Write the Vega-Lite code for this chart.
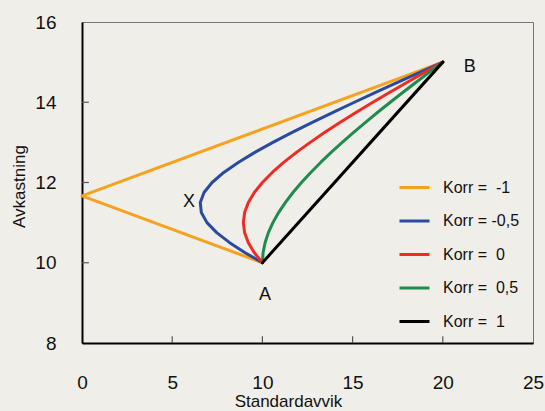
{
  "$schema": "https://vega.github.io/schema/vega-lite/v6.json",
  "width": 451,
  "height": 321,
  "autosize": "none",
  "padding": {"left": 82, "top": 22, "right": 12, "bottom": 68},
  "background": "#F0EEE8",
  "config": {
    "view": {"stroke": "#777777", "strokeWidth": 1, "fill": "#F0EEE8"},
    "font": "Liberation Sans",
    "axis": {"grid": false, "domainColor": "#000000", "domainWidth": 2, "ticks": false, "labelFontSize": 19, "labelColor": "#111111", "titleFontSize": 17, "titleFontWeight": "normal", "titleColor": "#111111", "labelFlush": false, "labelBound": false, "labelOverlap": false}
  },
  "layer": [
    {
      "data": {"values": [{"v": 5}, {"v": 10}, {"v": 15}, {"v": 20}]},
      "mark": {"type": "rule", "color": "#555555", "strokeWidth": 1.2},
      "encoding": {
        "x": {"field": "v", "type": "quantitative"},
        "y": {"datum": 8},
        "y2": {"datum": 8.17}
      }
    },
    {
      "data": {"values": [{"v": 10}, {"v": 12}, {"v": 14}]},
      "mark": {"type": "rule", "color": "#555555", "strokeWidth": 1.2},
      "encoding": {
        "y": {"field": "v", "type": "quantitative"},
        "x": {"datum": 0},
        "x2": {"datum": 0.38}
      }
    },
    {
      "data": {"values": [
        {"k": "-1", "w": 0, "sd": 20, "ret": 15},
        {"k": "-1", "w": 0.6667, "sd": 0, "ret": 11.667},
        {"k": "-1", "w": 1, "sd": 10, "ret": 10},
        {"k": "-0,5", "w": 0, "sd": 20, "ret": 15},
        {"k": "-0,5", "w": 0.05, "sd": 18.755, "ret": 14.75},
        {"k": "-0,5", "w": 0.1, "sd": 17.521, "ret": 14.5},
        {"k": "-0,5", "w": 0.15, "sd": 16.302, "ret": 14.25},
        {"k": "-0,5", "w": 0.2, "sd": 15.1, "ret": 14},
        {"k": "-0,5", "w": 0.25, "sd": 13.919, "ret": 13.75},
        {"k": "-0,5", "w": 0.3, "sd": 12.767, "ret": 13.5},
        {"k": "-0,5", "w": 0.35, "sd": 11.651, "ret": 13.25},
        {"k": "-0,5", "w": 0.4, "sd": 10.583, "ret": 13},
        {"k": "-0,5", "w": 0.45, "sd": 9.579, "ret": 12.75},
        {"k": "-0,5", "w": 0.5, "sd": 8.66, "ret": 12.5},
        {"k": "-0,5", "w": 0.55, "sd": 7.858, "ret": 12.25},
        {"k": "-0,5", "w": 0.6, "sd": 7.211, "ret": 12},
        {"k": "-0,5", "w": 0.65, "sd": 6.764, "ret": 11.75},
        {"k": "-0,5", "w": 0.7, "sd": 6.557, "ret": 11.5},
        {"k": "-0,5", "w": 0.75, "sd": 6.614, "ret": 11.25},
        {"k": "-0,5", "w": 0.8, "sd": 6.928, "ret": 11},
        {"k": "-0,5", "w": 0.85, "sd": 7.467, "ret": 10.75},
        {"k": "-0,5", "w": 0.9, "sd": 8.185, "ret": 10.5},
        {"k": "-0,5", "w": 0.95, "sd": 9.042, "ret": 10.25},
        {"k": "-0,5", "w": 1, "sd": 10, "ret": 10},
        {"k": "0", "w": 0, "sd": 20, "ret": 15},
        {"k": "0", "w": 0.05, "sd": 19.007, "ret": 14.75},
        {"k": "0", "w": 0.1, "sd": 18.028, "ret": 14.5},
        {"k": "0", "w": 0.15, "sd": 17.066, "ret": 14.25},
        {"k": "0", "w": 0.2, "sd": 16.125, "ret": 14},
        {"k": "0", "w": 0.25, "sd": 15.207, "ret": 13.75},
        {"k": "0", "w": 0.3, "sd": 14.318, "ret": 13.5},
        {"k": "0", "w": 0.35, "sd": 13.463, "ret": 13.25},
        {"k": "0", "w": 0.4, "sd": 12.649, "ret": 13},
        {"k": "0", "w": 0.45, "sd": 11.885, "ret": 12.75},
        {"k": "0", "w": 0.5, "sd": 11.18, "ret": 12.5},
        {"k": "0", "w": 0.55, "sd": 10.548, "ret": 12.25},
        {"k": "0", "w": 0.6, "sd": 10, "ret": 12},
        {"k": "0", "w": 0.65, "sd": 9.552, "ret": 11.75},
        {"k": "0", "w": 0.7, "sd": 9.22, "ret": 11.5},
        {"k": "0", "w": 0.75, "sd": 9.014, "ret": 11.25},
        {"k": "0", "w": 0.8, "sd": 8.944, "ret": 11},
        {"k": "0", "w": 0.85, "sd": 9.014, "ret": 10.75},
        {"k": "0", "w": 0.9, "sd": 9.22, "ret": 10.5},
        {"k": "0", "w": 0.95, "sd": 9.552, "ret": 10.25},
        {"k": "0", "w": 1, "sd": 10, "ret": 10},
        {"k": "0,5", "w": 0, "sd": 20, "ret": 15},
        {"k": "0,5", "w": 0.05, "sd": 19.255, "ret": 14.75},
        {"k": "0,5", "w": 0.1, "sd": 18.52, "ret": 14.5},
        {"k": "0,5", "w": 0.15, "sd": 17.797, "ret": 14.25},
        {"k": "0,5", "w": 0.2, "sd": 17.088, "ret": 14},
        {"k": "0,5", "w": 0.25, "sd": 16.394, "ret": 13.75},
        {"k": "0,5", "w": 0.3, "sd": 15.716, "ret": 13.5},
        {"k": "0,5", "w": 0.35, "sd": 15.058, "ret": 13.25},
        {"k": "0,5", "w": 0.4, "sd": 14.422, "ret": 13},
        {"k": "0,5", "w": 0.45, "sd": 13.811, "ret": 12.75},
        {"k": "0,5", "w": 0.5, "sd": 13.229, "ret": 12.5},
        {"k": "0,5", "w": 0.55, "sd": 12.679, "ret": 12.25},
        {"k": "0,5", "w": 0.6, "sd": 12.166, "ret": 12},
        {"k": "0,5", "w": 0.65, "sd": 11.694, "ret": 11.75},
        {"k": "0,5", "w": 0.7, "sd": 11.269, "ret": 11.5},
        {"k": "0,5", "w": 0.75, "sd": 10.897, "ret": 11.25},
        {"k": "0,5", "w": 0.8, "sd": 10.583, "ret": 11},
        {"k": "0,5", "w": 0.85, "sd": 10.332, "ret": 10.75},
        {"k": "0,5", "w": 0.9, "sd": 10.149, "ret": 10.5},
        {"k": "0,5", "w": 0.95, "sd": 10.037, "ret": 10.25},
        {"k": "0,5", "w": 1, "sd": 10, "ret": 10},
        {"k": "1", "w": 0, "sd": 20, "ret": 15},
        {"k": "1", "w": 1, "sd": 10, "ret": 10}
      ]},
      "mark": {"type": "line", "strokeWidth": 3, "strokeJoin": "round", "strokeCap": "round"},
      "encoding": {
        "x": {"field": "sd", "type": "quantitative", "scale": {"domain": [0, 25], "nice": false}, "axis": {"values": [0, 5, 10, 15, 20, 25], "title": "Standardavvik", "labelPadding": 30, "titleX": 206, "titleY": 50, "titleAnchor": "middle"}},
        "y": {"field": "ret", "type": "quantitative", "scale": {"domain": [8, 16], "nice": false, "zero": false}, "axis": {"values": [8, 10, 12, 14, 16], "title": "Avkastning", "labelPadding": 26, "titleX": -54, "titleY": 164, "titleAnchor": "middle"}},
        "color": {"field": "k", "type": "nominal", "scale": {"domain": ["-1", "-0,5", "0", "0,5", "1"], "range": ["#F7A11F", "#2A4AA2", "#EE2B25", "#1F8B4F", "#000000"]},
          "legend": {"title": null, "orient": "none", "legendX": 316, "legendY": 149, "symbolType": "stroke", "symbolSize": 900, "symbolStrokeWidth": 3, "labelFontSize": 16, "labelColor": "#111111", "rowPadding": 8.5, "labelOffset": 12, "labelExpr": "datum.label == '-0,5' ? 'Korr = -0,5' : 'Korr =\u00a0 ' + datum.label"}},
        "order": {"field": "w", "type": "quantitative"}
      }
    },
    {
      "data": {"values": [
        {"t": "A", "sd": 10.14, "ret": 9.2},
        {"t": "B", "sd": 21.5, "ret": 14.88},
        {"t": "X", "sd": 5.93, "ret": 11.51}
      ]},
      "mark": {"type": "text", "fontSize": 18, "color": "#111111", "baseline": "middle", "align": "center"},
      "encoding": {
        "x": {"field": "sd", "type": "quantitative"},
        "y": {"field": "ret", "type": "quantitative"},
        "text": {"field": "t"}
      }
    }
  ]
}
